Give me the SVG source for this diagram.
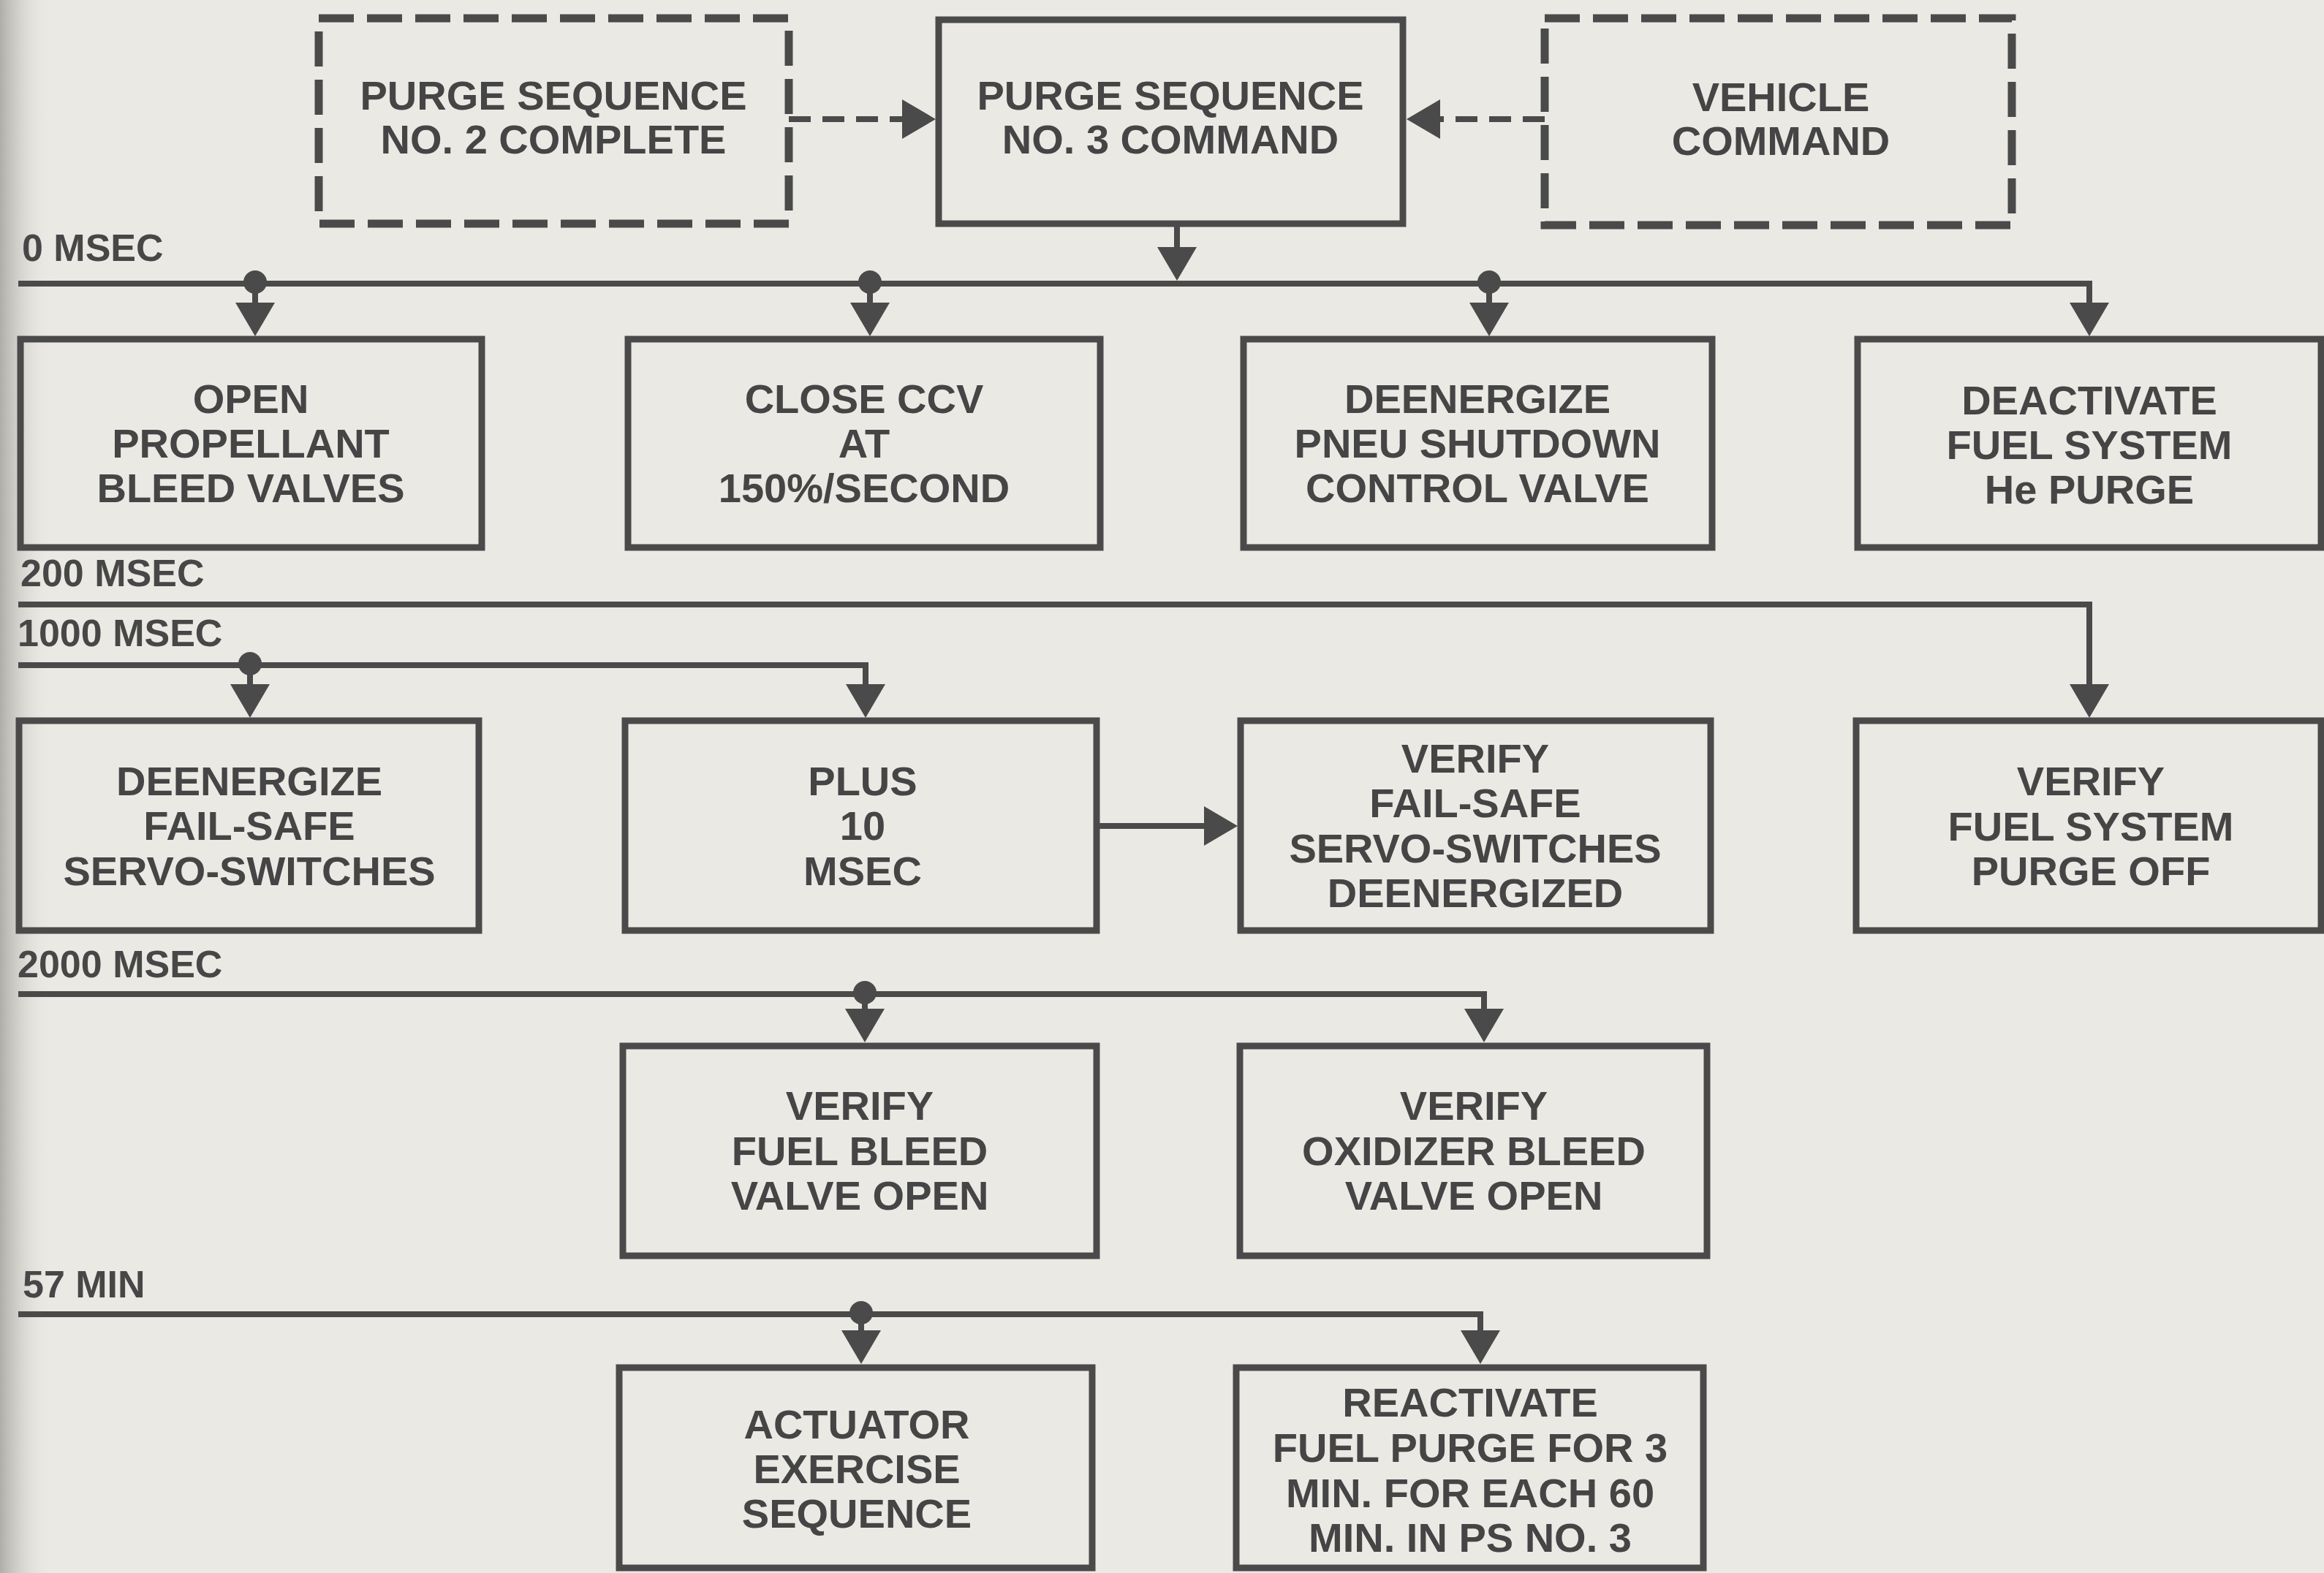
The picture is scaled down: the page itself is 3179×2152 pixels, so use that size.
<svg xmlns="http://www.w3.org/2000/svg" width="3179" height="2152" viewBox="0 0 3179 2152">
<defs>
<linearGradient id="edge" x1="0" y1="0" x2="1" y2="0">
<stop offset="0" stop-color="#a9a7a1" stop-opacity="0.9"/>
<stop offset="1" stop-color="#ebe9e4" stop-opacity="0"/>
</linearGradient>
<marker id="ah" markerUnits="userSpaceOnUse" markerWidth="48" markerHeight="56" viewBox="0 0 48 56" refX="0" refY="28" orient="auto">
<path d="M0,1 L46,28 L0,55 z" fill="#4a4a4a"/>
</marker>
<style>
.box{fill:none;stroke:#4a4a4a;stroke-width:9}
.dbox{fill:none;stroke:#4a4a4a;stroke-width:11;stroke-dasharray:48 18}
.t{font-family:"Liberation Sans",Arial,Helvetica,sans-serif;font-weight:bold;font-size:56px;fill:#454545;text-anchor:middle}
.lbl{font-family:"Liberation Sans",Arial,Helvetica,sans-serif;font-weight:bold;font-size:52px;fill:#474747}
.ln{fill:none;stroke:#4a4a4a;stroke-width:8;marker-end:url(#ah)}
.bus{fill:none;stroke:#4a4a4a;stroke-width:8}
.dl{fill:none;stroke:#4a4a4a;stroke-width:8;stroke-dasharray:30 16;marker-end:url(#ah)}
.dot{fill:#4a4a4a}
</style>
</defs>
<rect x="0" y="0" width="3179" height="2152" fill="#ebe9e4"/>
<rect x="0" y="0" width="70" height="2152" fill="url(#edge)"/>

<g id="labels">
<text class="lbl" x="30" y="357">0 MSEC</text>
<text class="lbl" x="28" y="802">200 MSEC</text>
<text class="lbl" x="24" y="884">1000 MSEC</text>
<text class="lbl" x="24" y="1337">2000 MSEC</text>
<text class="lbl" x="31" y="1775">57 MIN</text>
</g>

<g id="connectors">
<path class="dl" d="M1079,163 H1234"/>
<path class="dl" d="M2113,163 H1970"/>
<path class="ln" d="M1610,306 V338"/>
<path class="ln" d="M25,388 H2858 V414"/>
<path class="ln" d="M349,388 V414"/>
<path class="ln" d="M1190,388 V414"/>
<path class="ln" d="M2037,388 V414"/>
<circle class="dot" cx="349" cy="386" r="16"/>
<circle class="dot" cx="1190" cy="386" r="16"/>
<circle class="dot" cx="2037" cy="386" r="16"/>
<path class="ln" d="M25,827 H2858 V936"/>
<path class="ln" d="M25,910 H1184 V936"/>
<path class="ln" d="M342,910 V936"/>
<circle class="dot" cx="342" cy="908" r="16"/>
<path class="ln" d="M1500,1130 H1647"/>
<path class="ln" d="M25,1360 H2030 V1380"/>
<path class="ln" d="M1183,1360 V1380"/>
<circle class="dot" cx="1183" cy="1358" r="16"/>
<path class="ln" d="M25,1798 H2025 V1820"/>
<path class="ln" d="M1178,1798 V1820"/>
<circle class="dot" cx="1178" cy="1796" r="16"/>
</g>

<g id="n-ps2">
<rect class="dbox" x="436" y="25" width="643" height="281"/>
<text class="t" x="757" y="150">PURGE SEQUENCE</text>
<text class="t" x="757" y="210">NO. 2 COMPLETE</text>
</g>
<g id="n-ps3">
<rect class="box" x="1284" y="27" width="635" height="279"/>
<text class="t" x="1601" y="150">PURGE SEQUENCE</text>
<text class="t" x="1601" y="210">NO. 3 COMMAND</text>
</g>
<g id="n-vehicle">
<rect class="dbox" x="2113" y="25" width="639" height="283"/>
<text class="t" x="2436" y="152">VEHICLE</text>
<text class="t" x="2436" y="212">COMMAND</text>
</g>

<g id="n-open-bleed">
<rect class="box" x="28" y="464" width="631" height="285"/>
<text class="t" x="343" y="565">OPEN</text>
<text class="t" x="343" y="626">PROPELLANT</text>
<text class="t" x="343" y="687">BLEED VALVES</text>
</g>
<g id="n-close-ccv">
<rect class="box" x="859" y="464" width="646" height="285"/>
<text class="t" x="1182" y="565">CLOSE CCV</text>
<text class="t" x="1182" y="626">AT</text>
<text class="t" x="1182" y="687">150%/SECOND</text>
</g>
<g id="n-pneu">
<rect class="box" x="1701" y="464" width="641" height="285"/>
<text class="t" x="2021" y="565">DEENERGIZE</text>
<text class="t" x="2021" y="626">PNEU SHUTDOWN</text>
<text class="t" x="2021" y="687">CONTROL VALVE</text>
</g>
<g id="n-deactivate">
<rect class="box" x="2541" y="464" width="634" height="285"/>
<text class="t" x="2858" y="567">DEACTIVATE</text>
<text class="t" x="2858" y="628">FUEL SYSTEM</text>
<text class="t" x="2858" y="689">He PURGE</text>
</g>

<g id="n-deenergize-fs">
<rect class="box" x="26" y="986" width="629" height="287"/>
<text class="t" x="341" y="1088">DEENERGIZE</text>
<text class="t" x="341" y="1149">FAIL-SAFE</text>
<text class="t" x="341" y="1211">SERVO-SWITCHES</text>
</g>
<g id="n-plus10">
<rect class="box" x="855" y="986" width="645" height="287"/>
<text class="t" x="1180" y="1088">PLUS</text>
<text class="t" x="1180" y="1149">10</text>
<text class="t" x="1180" y="1211">MSEC</text>
</g>
<g id="n-verify-fs">
<rect class="box" x="1697" y="986" width="643" height="287"/>
<text class="t" x="2018" y="1057">VERIFY</text>
<text class="t" x="2018" y="1118">FAIL-SAFE</text>
<text class="t" x="2018" y="1180">SERVO-SWITCHES</text>
<text class="t" x="2018" y="1241">DEENERGIZED</text>
</g>
<g id="n-verify-purge-off">
<rect class="box" x="2539" y="986" width="636" height="287"/>
<text class="t" x="2860" y="1088">VERIFY</text>
<text class="t" x="2860" y="1150">FUEL SYSTEM</text>
<text class="t" x="2860" y="1211">PURGE OFF</text>
</g>

<g id="n-verify-fuel-bleed">
<rect class="box" x="852" y="1431" width="648" height="287"/>
<text class="t" x="1176" y="1532">VERIFY</text>
<text class="t" x="1176" y="1594">FUEL BLEED</text>
<text class="t" x="1176" y="1655">VALVE OPEN</text>
</g>
<g id="n-verify-ox-bleed">
<rect class="box" x="1696" y="1431" width="639" height="287"/>
<text class="t" x="2016" y="1532">VERIFY</text>
<text class="t" x="2016" y="1594">OXIDIZER BLEED</text>
<text class="t" x="2016" y="1655">VALVE OPEN</text>
</g>

<g id="n-actuator">
<rect class="box" x="847" y="1871" width="647" height="274"/>
<text class="t" x="1172" y="1968">ACTUATOR</text>
<text class="t" x="1172" y="2029">EXERCISE</text>
<text class="t" x="1172" y="2090">SEQUENCE</text>
</g>
<g id="n-reactivate">
<rect class="box" x="1691" y="1871" width="639" height="274"/>
<text class="t" x="2011" y="1938">REACTIVATE</text>
<text class="t" x="2011" y="2000">FUEL PURGE FOR 3</text>
<text class="t" x="2011" y="2062">MIN. FOR EACH 60</text>
<text class="t" x="2011" y="2123">MIN. IN PS NO. 3</text>
</g>
</svg>
